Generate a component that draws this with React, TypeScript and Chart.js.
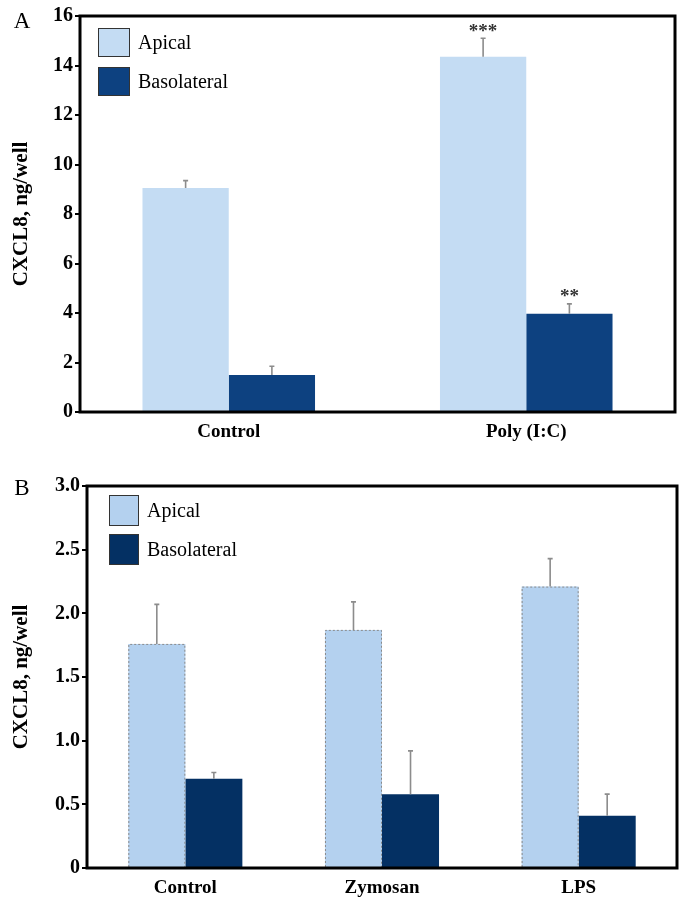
import React, { useEffect, useRef } from 'react';
import { Chart, registerables } from 'chart.js';
Chart.register(...registerables);

// ---- Panel A data ----
const categoriesA = ['Control', 'Poly (I:C)'];
const apicalA = [9.05, 14.35];
const apicalErrA = [0.3, 0.75];
const basoA = [1.5, 3.97];
const basoErrA = [0.35, 0.4];
const starsApicalA = ['', '***'];
const starsBasoA = ['', '**'];
const yTicksA = ['0', '2', '4', '6', '8', '10', '12', '14', '16'];

// ---- Panel B data ----
const categoriesB = ['Control', 'Zymosan', 'LPS'];
const apicalB = [1.76, 1.87, 2.21];
const apicalErrB = [0.31, 0.22, 0.22];
const basoB = [0.7, 0.58, 0.41];
const basoErrB = [0.05, 0.34, 0.17];
const yTicksB = ['0', '0.5', '1.0', '1.5', '2.0', '2.5', '3.0'];

const SERIF = '"Liberation Serif", "DejaVu Serif", serif';

const decorPlugin = {
  id: 'decor',
  afterDatasetsDraw(chart: any, _args: any, opts: any) {
    const ctx = chart.ctx;
    const yScale = chart.scales.y;
    const ca = chart.chartArea;
    ctx.save();
    // dashed outlines on selected datasets
    chart.data.datasets.forEach((ds: any, di: number) => {
      const meta = chart.getDatasetMeta(di);
      if (ds.dashOutline) {
        meta.data.forEach((el: any) => {
          const half = el.width / 2;
          ctx.strokeStyle = '#8a8a8a';
          ctx.lineWidth = 1;
          ctx.setLineDash([2, 2]);
          ctx.beginPath();
          ctx.moveTo(el.x - half + 0.5, el.base);
          ctx.lineTo(el.x - half + 0.5, el.y + 0.5);
          ctx.lineTo(el.x + half - 0.5, el.y + 0.5);
          ctx.lineTo(el.x + half - 0.5, el.base);
          ctx.stroke();
          ctx.setLineDash([]);
        });
      }
    });
    // error bars and stars
    chart.data.datasets.forEach((ds: any, di: number) => {
      const meta = chart.getDatasetMeta(di);
      meta.data.forEach((el: any, i: number) => {
        const v = ds.data[i];
        const e = ds.errors ? ds.errors[i] : 0;
        const yTop = yScale.getPixelForValue(v + e);
        ctx.strokeStyle = '#8c8c8c';
        ctx.lineWidth = 1.6;
        ctx.beginPath();
        ctx.moveTo(el.x, el.y);
        ctx.lineTo(el.x, yTop);
        ctx.moveTo(el.x - 2.5, yTop);
        ctx.lineTo(el.x + 2.5, yTop);
        ctx.stroke();
        if (ds.stars && ds.stars[i]) {
          ctx.fillStyle = '#333';
          ctx.font = `bold 19px ${SERIF}`;
          ctx.textAlign = 'center';
          ctx.textBaseline = 'alphabetic';
          ctx.fillText(ds.stars[i], el.x, yTop - 1.5);
        }
      });
    });
    // frame
    ctx.strokeStyle = '#000';
    ctx.lineWidth = 3;
    ctx.strokeRect(ca.left, ca.top, ca.right - ca.left, ca.bottom - ca.top);
    // legend
    const lg = opts.legend;
    chart.data.datasets.forEach((ds: any, di: number) => {
      const bx = ca.left + lg.dx;
      const by = ca.top + lg.dy + di * lg.step;
      ctx.fillStyle = ds.backgroundColor;
      ctx.fillRect(bx, by, lg.w, lg.h);
      ctx.strokeStyle = '#333';
      ctx.lineWidth = 1;
      ctx.strokeRect(bx + 0.5, by + 0.5, lg.w - 1, lg.h - 1);
      ctx.fillStyle = '#000';
      ctx.font = `20px ${SERIF}`;
      ctx.textAlign = 'left';
      ctx.textBaseline = 'middle';
      ctx.fillText(ds.label, bx + lg.w + 8, by + lg.h / 2 + 1);
    });
    // panel letter
    ctx.fillStyle = '#000';
    ctx.font = `23px ${SERIF}`;
    ctx.textAlign = 'center';
    ctx.textBaseline = 'middle';
    ctx.fillText(opts.letter, opts.letterX, opts.letterY);
    ctx.restore();
  },
};

function makeConfig(p: any) {
  return {
    type: 'bar',
    data: {
      labels: p.labels,
      datasets: [
        {
          label: 'Apical',
          data: p.apical,
          errors: p.apicalErr,
          stars: p.apicalStars,
          dashOutline: p.dash,
          backgroundColor: p.c1,
          borderWidth: 0,
          categoryPercentage: 0.58,
          barPercentage: 1.0,
        },
        {
          label: 'Basolateral',
          data: p.baso,
          errors: p.basoErr,
          stars: p.basoStars,
          backgroundColor: p.c2,
          borderWidth: 0,
          categoryPercentage: 0.58,
          barPercentage: 1.0,
        },
      ],
    },
    options: {
      responsive: false,
      animation: false,
      layout: { padding: { top: p.padTop, right: p.padRight, left: 0, bottom: 0 } },
      plugins: {
        legend: { display: false },
        tooltip: { enabled: false },
        decor: { legend: p.legend, letter: p.letter, letterX: 22, letterY: p.letterY },
      },
      scales: {
        x: {
          grid: { display: false },
          border: { display: false },
          ticks: { color: '#000', font: { family: SERIF, size: 19, weight: 'bold' }, padding: p.xPad, maxRotation: 0 },
          afterFit: (s: any) => { s.height = p.xH; },
        },
        y: {
          min: p.min,
          max: p.max,
          border: { display: false },
          grid: { display: true, drawOnChartArea: false, drawTicks: true, tickLength: 5, color: '#000', lineWidth: 2 },
          ticks: {
            stepSize: p.step,
            color: '#000',
            padding: 2,
            font: { family: SERIF, size: 20, weight: 'bold' },
            callback: (_v: any, i: number) => p.ticks[i],
          },
          title: {
            display: true,
            text: 'CXCL8, ng/well',
            color: '#000',
            font: { family: SERIF, size: 21, weight: 'bold' },
            padding: { top: 9, bottom: 0 },
          },
          afterFit: (s: any) => { s.width = p.yW; },
        },
      },
    },
    plugins: [decorPlugin],
  } as any;
}

function Panel(props: { p: any; width: number; height: number; top: number }) {
  const ref = useRef<HTMLCanvasElement>(null);
  useEffect(() => {
    const chart = new Chart(ref.current as HTMLCanvasElement, makeConfig(props.p));
    return () => chart.destroy();
  }, []);
  return (
    <canvas
      ref={ref}
      width={props.width}
      height={props.height}
      style={{ position: 'absolute', left: 0, top: props.top, width: props.width, height: props.height }}
    />
  );
}

export default function App() {
  const pA = {
    labels: categoriesA, apical: apicalA, apicalErr: apicalErrA, baso: basoA, basoErr: basoErrA,
    apicalStars: starsApicalA, basoStars: starsBasoA, ticks: yTicksA, dash: false,
    c1: '#c4dcf3', c2: '#0d4180', min: 0, max: 16, step: 2,
    padTop: 16, padRight: 10, yW: 80, xH: 40, xPad: 1,
    legend: { dx: 18, dy: 12, w: 32, h: 29, step: 39 },
    letter: 'A', letterY: 22,
  };
  const pB = {
    labels: categoriesB, apical: apicalB, apicalErr: apicalErrB, baso: basoB, basoErr: basoErrB,
    apicalStars: null, basoStars: null, ticks: yTicksB, dash: true,
    c1: '#b4d1ef', c2: '#043063', min: 0, max: 3, step: 0.5,
    padTop: 34, padRight: 8, yW: 87, xH: 37, xPad: 1,
    legend: { dx: 22, dy: 9, w: 30, h: 31, step: 39 },
    letter: 'B', letterY: 37,
  };
  return (
    <div style={{ position: 'absolute', left: 0, top: 0, width: 685, height: 905, background: '#fff' }}>
      <Panel p={pA} width={685} height={452} top={0} />
      <Panel p={pB} width={685} height={453} top={452} />
    </div>
  );
}
